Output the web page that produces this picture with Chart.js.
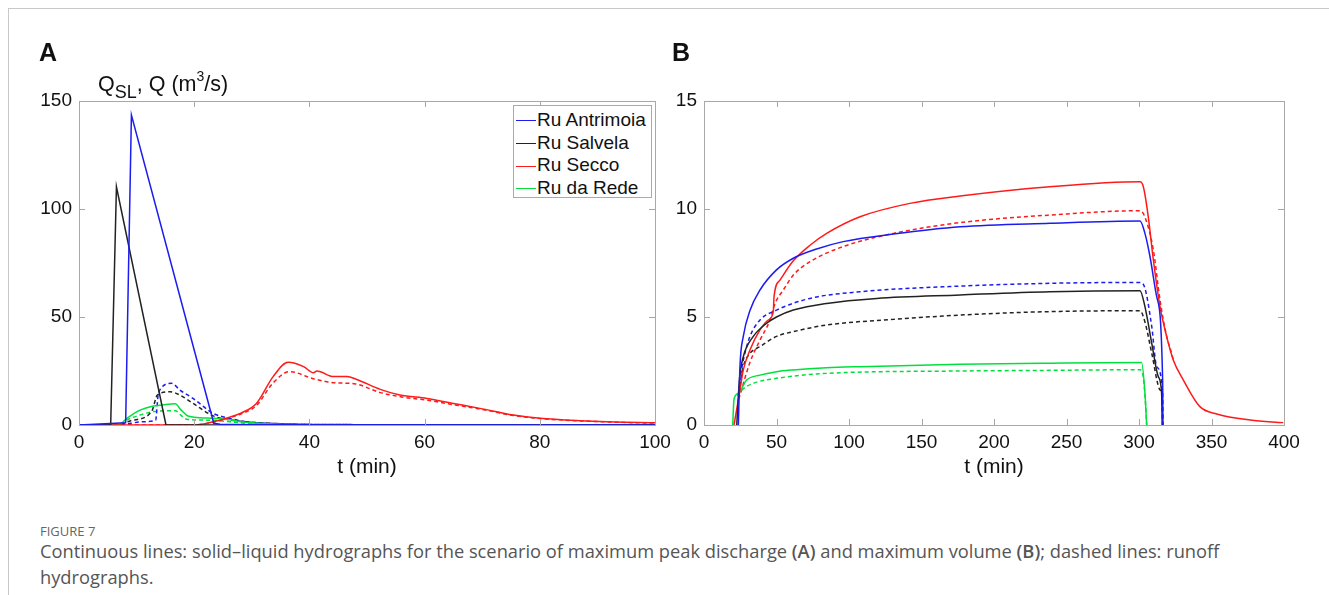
<!DOCTYPE html>
<html><head><meta charset="utf-8">
<script src="https://cdn.jsdelivr.net/npm/chart.js@4.4.1/dist/chart.umd.min.js"></script>
<style>
body{margin:0;background:#fff;}
#wrap{position:relative;width:1329px;height:595px;overflow:hidden;font-family:"Liberation Sans",Arial,sans-serif;color:#111;}
.frame{position:absolute;left:8px;top:8px;right:-2px;bottom:-2px;border-left:1px solid #c8c8c8;border-top:1px solid #c8c8c8;}
canvas{position:absolute;top:0;}
.plbl{position:absolute;font-weight:bold;font-size:25px;line-height:25px;}
#ytitle{position:absolute;left:98px;top:73px;font-size:21.5px;line-height:22px;white-space:nowrap;}
#ytitle sub{font-size:18px;vertical-align:-7px;line-height:0;}
#ytitle sup{font-size:14px;vertical-align:10px;line-height:0;}
#legend{position:absolute;left:513px;top:105px;width:139px;height:93px;border:1px solid #aaa;background:#fff;box-sizing:border-box;padding-top:3px;}
#legend div{height:22.6px;line-height:22.6px;font-size:19px;white-space:nowrap;}
#legend span.ln{display:inline-block;width:20px;height:0;border-top:1.5px solid;vertical-align:middle;margin:0 1px 0 2px;}
#figno{position:absolute;left:40px;top:522px;font-family:"Open Sans",sans-serif;font-size:13px;color:#666;}
#cap{position:absolute;left:40px;top:538px;width:1230px;font-family:"Open Sans",sans-serif;font-size:18.3px;line-height:26px;color:#555;}
#cap b{font-weight:600;}
</style></head>
<body><div id="wrap">
<div class="frame"></div>
<canvas id="cA" width="690" height="480" style="left:0"></canvas>
<canvas id="cB" width="664" height="480" style="left:665px"></canvas>
<div class="plbl" style="left:39px;top:40px">A</div>
<div class="plbl" style="left:672px;top:40px">B</div>
<div id="ytitle">Q<sub>SL</sub>, Q (m<sup>3</sup>/s)</div>
<div id="legend"></div>
<div id="figno">FIGURE 7</div>
<div id="cap">Continuous lines: solid–liquid hydrographs for the scenario of maximum peak discharge <b>(A)</b> and maximum volume <b>(B)</b>; dashed lines: runoff hydrographs.</div>
</div>
<script>
// ---------- data ----------
const seriesNames = ['Ru Antrimoia','Ru Salvela','Ru Secco','Ru da Rede'];
const seriesColors = ['#1c1cf0','#222222','#ff1a1a','#00e03c'];

const xTicksA = [0,20,40,60,80,100];
const yTicksA = [0,50,100,150];
const xTicksB = [0,50,100,150,200,250,300,350,400];
const yTicksB = [0,5,10,15];

// Panel A (maximum peak discharge) – solid: solid-liquid, dashed: runoff
const aAntrimoiaT = [0,8.1,9.1,23.4,24.5,30,100];
const aAntrimoiaQ = [0,1,143.5,0.8,0.3,0.1,0];
const aAntrimoiaRT = [0,7,9,11,13.3,13.8,16.1,17.5,19.8,23.3,26,29,35,45,100];
const aAntrimoiaRQ = [0,0,0.8,1.5,2.2,15,19.3,16.2,12.3,5.4,3.2,1.5,0.6,0.2,0];

const aSalvelaT = [0,5.5,6.5,15.1,100];
const aSalvelaQ = [0,0,110.3,0,0];
const aSalvelaRT = [0,6.5,9,12.6,13.6,15.8,17.5,19.8,23.3,26,29,35,45,100];
const aSalvelaRQ = [0,0,2,6.2,13.8,15.4,13.9,10,4.2,2.5,1.5,0.6,0.2,0];

const aSeccoT = [0,19.8,23.3,26,28,30.8,33.7,36.3,39,40.7,41.3,44.2,46.5,48.2,52.3,55.7,60.4,65,69.6,75.4,80,87,97.4,100];
const aSeccoQ = [0,0,1.5,3.5,5.4,10,22.4,29,27,24.2,25,22.4,22.4,21.1,16.5,13.9,12.3,10,7.7,4.6,3.1,2,1.1,1];
const aSeccoRT = [0,19.8,23.3,26,28,30.8,33.7,36.6,40.7,44.2,48,52.3,56,60.4,65,70,75.4,80,87,97.4,100];
const aSeccoRQ = [0,0,1.3,3.2,5,9,19.5,24.7,21.4,19.6,19,15,13,11.5,9.4,7.2,4.4,3,1.9,1,0.9];

const aRedeT = [0,6.8,8.3,10.6,12.9,14.5,16.7,17.7,18.7,19.3,21,23.3,26,28,31,35,40,100];
const aRedeQ = [0,0,3.1,6.9,8.8,9.3,9.8,7,4.5,3.9,3.3,3.1,2.4,1.5,0.8,0.3,0,0];
const aRedeRT = [0,7,8.3,10.6,12.9,16.7,17.7,18.7,23.3,26.2,29,35,40,100];
const aRedeRQ = [0,0,2.3,4.6,6.2,6.6,4.5,2.7,2.2,1.5,0.8,0.2,0,0];

// Panel B (maximum volume)
const bAntrimoiaT = [23.7,24.8,27.1,31.7,38.6,50,61.6,77.7,96,130.6,176.6,238.6,300.7,304.1,307.6,312.2,316.3,316.5];
const bAntrimoiaQ = [0,2.7,4.1,5.3,6.25,7.18,7.72,8.15,8.49,8.84,9.18,9.34,9.44,8.87,7.79,5.94,2.08,0];
const bAntrimoiaRT = [24.5,27.1,31.7,38.6,50,73,107.6,176.6,238.6,300.7,304.1,308.8,312.2,316.3,316.5];
const bAntrimoiaRQ = [2.0,3.0,4.1,4.86,5.32,5.86,6.17,6.43,6.56,6.6,6.33,4.55,2.7,1.5,0];

const bSalvelaT = [22.6,24.4,27.1,34,43.2,50,61.6,84.6,119.1,176.6,238.6,300.7,304.1,308.8,313.3,315.6,316];
const bSalvelaQ = [0,2.08,3.16,4.1,4.71,5.0,5.32,5.63,5.86,6.02,6.17,6.22,5.48,3.78,2.24,1.47,0];
const bSalvelaRT = [24,27.1,31.7,38.6,50,61.6,84.6,130.6,176.6,238.6,300.7,304.1,308.8,314.5,316,316.2];
const bSalvelaRQ = [1.5,2.7,3.32,3.63,4.1,4.32,4.63,4.89,5.09,5.25,5.29,4.77,3.32,1.62,1.2,0];

const bSeccoT = [20.7,24.8,27.1,31.7,38.6,44.3,47.8,48.3,52.4,61.6,73.1,84.6,107.6,142,176.6,238.6,300.7,303,306.4,309.9,314.5,319.1,323.7,330.6,342,353.6,376.6,399.5];
const bSeccoQ = [0,1.62,2.55,3.47,4.4,4.86,5.25,5.94,6.71,7.6,8.32,8.87,9.64,10.26,10.6,11.03,11.26,11.03,9.64,7.64,5.48,4.09,3.0,2.08,0.85,0.51,0.23,0.11];
const bSeccoRT = [24,31.7,38.6,45.5,49,54.7,61.6,73.1,96,130.6,176.6,238.6,300.7,304,309.9,314.5,319.1,322.5,323.7];
const bSeccoRQ = [1.2,2.9,3.93,4.86,5.63,6.25,6.94,7.56,8.26,8.87,9.37,9.72,9.92,9.64,8.1,5.78,4.1,3.32,3.0];

const bRedeT = [19.8,20.7,23.7,29.4,38.6,50,61.5,84.6,107.6,176.6,238.6,301.8,304.1,305.3];
const bRedeQ = [0,1.19,1.47,2.08,2.31,2.47,2.55,2.65,2.7,2.81,2.86,2.89,1.47,0];
const bRedeRT = [23,26,34,50,84.6,176.6,238.6,300.6,302,304,305.3];
const bRedeRQ = [1.35,1.62,1.93,2.16,2.39,2.50,2.53,2.56,2.5,1.5,0];

// ---------- helpers ----------
const pts = (t,q)=>t.map((v,i)=>({x:v,y:q[i]}));
function ds(t,q,ci,dashed,straight){
  const d = {data:pts(t,q),borderColor:seriesColors[ci],borderWidth:1.5,borderDash:dashed?[4,3]:[],
    pointRadius:0,fill:false,label:seriesNames[ci]+(dashed?' (runoff)':'')};
  if(straight){d.tension=0;} else {d.cubicInterpolationMode='monotone';}
  return d;
}
const FONT = {family:'"Liberation Sans", Arial, sans-serif',size:19};
const AX = '#a8a8a8';

const frameTicks = {
  id:'frameTicks',
  afterDraw(chart){
    const {ctx,chartArea:a,scales:{x,y}} = chart;
    ctx.save();
    ctx.strokeStyle = AX; ctx.lineWidth = 1;
    ctx.strokeRect(Math.round(a.left)+0.5,Math.round(a.top)+0.5,Math.round(a.right-a.left),Math.round(a.bottom-a.top));
    const L = 6;
    ctx.beginPath();
    x.ticks.forEach(t=>{const px=Math.round(x.getPixelForValue(t.value))+0.5;
      ctx.moveTo(px,a.bottom);ctx.lineTo(px,a.bottom-L);ctx.moveTo(px,a.top);ctx.lineTo(px,a.top+L);});
    y.ticks.forEach(t=>{const py=Math.round(y.getPixelForValue(t.value))+0.5;
      ctx.moveTo(a.left,py);ctx.lineTo(a.left+L,py);ctx.moveTo(a.right,py);ctx.lineTo(a.right-L,py);});
    ctx.stroke();
    ctx.restore();
  }
};

function makeChart(id,datasets,xr,yr,xt,yt,yW,padL,padR){
  return new Chart(document.getElementById(id),{
    type:'line',
    data:{datasets},
    options:{
      responsive:false,animation:false,
      layout:{padding:{left:padL,right:padR,top:101,bottom:0}},
      plugins:{legend:{display:false},tooltip:{enabled:false}},
      scales:{
        x:{type:'linear',min:xr[0],max:xr[1],
          afterBuildTicks:s=>{s.ticks=xt.map(v=>({value:v}));},
          afterFit:s=>{s.height=55;},
          grid:{display:false,drawTicks:false},border:{display:false},
          ticks:{color:'#111',font:FONT,padding:6,maxRotation:0,autoSkip:false},
          title:{display:true,text:'t (min)',color:'#111',font:{family:FONT.family,size:21},padding:{top:0,bottom:0}}},
        y:{type:'linear',min:yr[0],max:yr[1],
          afterBuildTicks:s=>{s.ticks=yt.map(v=>({value:v}));},
          afterFit:s=>{s.width=yW;},
          grid:{display:false,drawTicks:false},border:{display:false},
          ticks:{color:'#111',font:FONT,padding:7}}
      }
    },
    plugins:[frameTicks]
  });
}

const dsA = [
  ds(aAntrimoiaT,aAntrimoiaQ,0,false,true), ds(aSalvelaT,aSalvelaQ,1,false,true), ds(aSeccoT,aSeccoQ,2,false), ds(aRedeT,aRedeQ,3,false),
  ds(aAntrimoiaRT,aAntrimoiaRQ,0,true), ds(aSalvelaRT,aSalvelaRQ,1,true), ds(aSeccoRT,aSeccoRQ,2,true), ds(aRedeRT,aRedeRQ,3,true)
];
const dsB = [
  ds(bAntrimoiaT,bAntrimoiaQ,0,false), ds(bSalvelaT,bSalvelaQ,1,false), ds(bSeccoT,bSeccoQ,2,false), ds(bRedeT,bRedeQ,3,false),
  ds(bAntrimoiaRT,bAntrimoiaRQ,0,true), ds(bSalvelaRT,bSalvelaRQ,1,true), ds(bSeccoRT,bSeccoRQ,2,true), ds(bRedeRT,bRedeRQ,3,true)
];
makeChart('cA',dsA,[0,100],[0,150],xTicksA,yTicksA,79,0,35);
makeChart('cB',dsB,[0,400],[0,15],xTicksB,yTicksB,39,0,45);

// legend (HTML) for panel A
const lg = document.getElementById('legend');
seriesNames.forEach((n,i)=>{
  const d=document.createElement('div');
  d.innerHTML='<span class="ln" style="border-color:'+seriesColors[i]+'"></span>'+n;
  lg.appendChild(d);
});
</script>
</body></html>
